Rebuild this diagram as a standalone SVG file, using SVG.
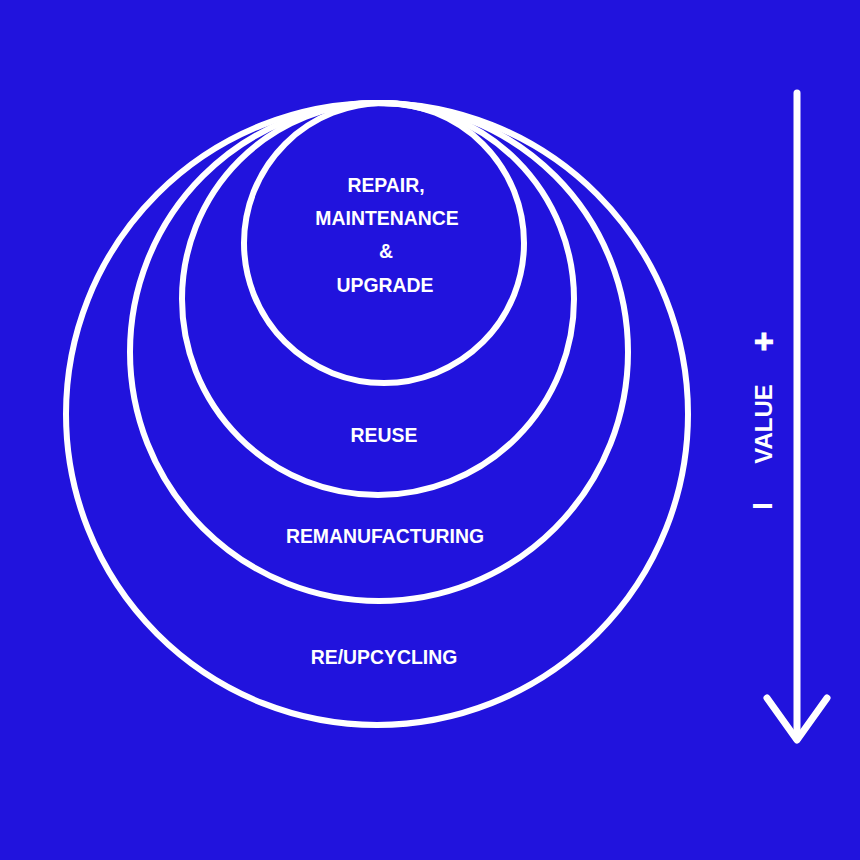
<svg xmlns="http://www.w3.org/2000/svg" width="860" height="860" viewBox="0 0 860 860">
<style>
.ring{fill:none;stroke:#ffffff;stroke-width:6}
.lbl{font-family:"Liberation Sans",Arial,sans-serif;font-weight:bold;font-size:19.4px;fill:#ffffff;text-anchor:middle}
.ax{fill:none;stroke:#ffffff;stroke-width:7;stroke-linecap:round;stroke-linejoin:round}
</style>
<rect width="860" height="860" fill="#2113DD"/>
<g id="recycling"><circle class="ring" cx="377" cy="414" r="311"/><text class="lbl" x="384" y="664">RE/UPCYCLING</text></g>
<g id="remanufacturing"><circle class="ring" cx="379" cy="352" r="249"/><text class="lbl" x="385" y="543">REMANUFACTURING</text></g>
<g id="reuse"><circle class="ring" cx="378" cy="299" r="196"/><text class="lbl" x="384" y="442">REUSE</text></g>
<g id="repair"><circle class="ring" cx="384" cy="243" r="140"/>
<text class="lbl" x="386" y="192">REPAIR,</text>
<text class="lbl" x="387" y="225">MAINTENANCE</text>
<text class="lbl" x="386" y="258">&amp;</text>
<text class="lbl" x="385" y="292">UPGRADE</text></g>
<g id="connectors">
<line class="ax" x1="797" y1="93" x2="797" y2="739"/>
<polyline class="ax" points="767,698 797,740 827,698"/>
</g>
<g id="value-axis">
<text class="lbl" style="font-size:34px;stroke:#ffffff;stroke-width:1" x="764" y="353">+</text>
<text class="lbl" style="font-size:24px" transform="translate(772,424) rotate(-90)" x="0" y="0">VALUE</text>
<text class="lbl" style="font-size:27px" transform="translate(772,506) rotate(-90)" x="0" y="0">I</text>
</g>
</svg>
